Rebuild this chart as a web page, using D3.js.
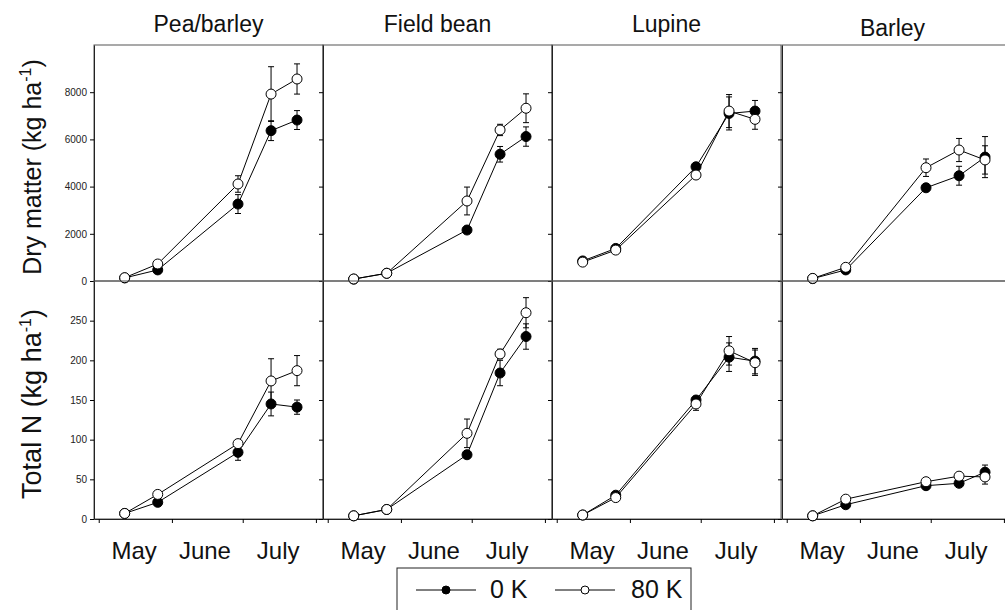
<!DOCTYPE html>
<html><head><meta charset="utf-8">
<script src="https://cdn.jsdelivr.net/npm/d3@7"></script>
<style>body{margin:0;background:#fff}svg{display:block;font-family:"Liberation Sans",Arial,sans-serif}</style>
</head><body><svg id="c" width="1005" height="610"></svg>
<script>
const crops = ["Pea/barley","Field bean","Lupine","Barley"];
const sampleDates = ["2000-05-12","2000-05-26","2000-06-29","2000-07-13","2000-07-24"];
const monthLabels = ["May","June","July"];
const monthLabelDates = ["2000-05-16","2000-06-15","2000-07-16"];
const monthTickDates = ["2000-05-01","2000-06-01","2000-07-01","2000-08-01"];
const dmTicks = [0,2000,4000,6000,8000];
const nTicks = [0,50,100,150,200,250];
const legendLabels = ["0 K","80 K"];

// Dry matter (kg/ha)
const dm0K = [
  [130, 470, 3260, 6370, 6820],
  [80, 330, 2160, 5370, 6120],
  [850, 1380, 4840, 7100, 7200],
  [100, 470, 3950, 4460, 5250]
];
const dm0KErr = [
  [0, 60, 400, 420, 400],
  [0, 0, 0, 330, 410],
  [0, 0, 0, 700, 450],
  [0, 0, 0, 400, 870]
];
const dm80K = [
  [140, 720, 4110, 7920, 8560],
  [85, 325, 3390, 6400, 7320],
  [800, 1310, 4490, 7200, 6850],
  [110, 580, 4800, 5550, 5130]
];
const dm80KErr = [
  [0, 0, 350, 1160, 640],
  [0, 0, 590, 240, 610],
  [0, 0, 0, 700, 420],
  [0, 0, 370, 490, 600]
];
// Total N (kg/ha)
const n0K = [
  [7, 21, 84, 145, 141],
  [4, 12, 81, 184, 230],
  [5, 30, 150, 204, 199],
  [4, 18, 42, 45, 59]
];
const n0KErr = [
  [0, 0, 10, 15, 9],
  [0, 0, 0, 16, 16],
  [0, 0, 0, 18, 16],
  [0, 0, 0, 0, 9]
];
const n80K = [
  [7, 31, 95, 174, 187],
  [4, 12, 108, 208, 260],
  [5, 27, 145, 212, 197],
  [4, 25, 47, 54, 53]
];
const n80KErr = [
  [0, 0, 0, 28, 19],
  [0, 0, 18, 6, 19],
  [0, 0, 8, 18, 16],
  [0, 0, 0, 0, 9]
];

const parse = d3.timeParse("%Y-%m-%d");
const svg = d3.select("#c");
const panelLeft = [94, 323, 552, 782];
const panelW = 229;
const rows = [
  {top:45, bottom:281, domain:[0,10000], ticks:dmTicks, s0:dm0K, e0:dm0KErr, s1:dm80K, e1:dm80KErr, title:"Dry matter (kg ha", cy:167, fs:25},
  {top:281, bottom:519, domain:[0,300], ticks:nTicks, s0:n0K, e0:n0KErr, s1:n80K, e1:n80KErr, title:"Total N (kg ha", cy:404, fs:27}
];

rows.forEach((row, ri) => {
  const y = d3.scaleLinear().domain(row.domain).range([row.bottom, row.top]);
  crops.forEach((crop, ci) => {
    const L = panelLeft[ci];
    const x = d3.scaleTime().domain([parse("2000-04-29"), parse("2000-08-04")]).range([L, L + panelW]);
    const g = svg.append("g");
    g.append("rect").attr("x", L).attr("y", row.top).attr("width", panelW).attr("height", row.bottom - row.top)
      .attr("fill", "none").attr("stroke", "#555").attr("stroke-width", 1);
    const ya = d3.axisLeft(y).tickValues(row.ticks).tickSize(4).tickSizeOuter(0);
    if (ci === 0) ya.tickFormat(d3.format("d")); else ya.tickFormat("");
    const yg = g.append("g").attr("transform", `translate(${L},0)`).call(ya);
    yg.select(".domain").attr("stroke", "#222");
    yg.selectAll("text").attr("font-size", 10).attr("fill", "#222").attr("font-family", "Liberation Sans, Arial");
    if (ri === 1) {
      const xa = d3.axisBottom(x).tickValues(monthTickDates.map(parse)).tickSize(4).tickSizeOuter(0).tickFormat("");
      const xg = g.append("g").attr("transform", `translate(0,${row.bottom})`).call(xa);
      xg.select(".domain").attr("stroke", "#222");
      monthLabels.forEach((m, mi) => {
        g.append("text").attr("x", x(parse(monthLabelDates[mi]))).attr("y", 559)
          .attr("text-anchor", "middle").attr("font-size", 24).attr("fill", "#111").text(m);
      });
    }
    if (ri === 0) {
      g.append("text").attr("x", L + panelW / 2 - (ci === 3 ? 4 : 0)).attr("y", ci === 3 ? 36 : 32)
        .attr("text-anchor", "middle").attr("font-size", 23).attr("fill", "#111").text(crop);
    }
    const pts = (vals, errs) => vals.map((v, i) => ({x: x(parse(sampleDates[i])), v, e: errs[i]}));
    const line = d3.line().x(d => d.x).y(d => y(d.v));
    const series = [
      {data: pts(row.s0[ci], row.e0[ci]), fill: "#000"},
      {data: pts(row.s1[ci], row.e1[ci]), fill: "#fff"}
    ];
    series.forEach(s => {
      s.data.filter(d => d.e > 0).forEach(d => {
        const eg = g.append("g").attr("stroke", "#000").attr("stroke-width", 1);
        eg.append("line").attr("x1", d.x).attr("x2", d.x).attr("y1", y(d.v + d.e)).attr("y2", y(d.v - d.e));
        eg.append("line").attr("x1", d.x - 3).attr("x2", d.x + 3).attr("y1", y(d.v + d.e)).attr("y2", y(d.v + d.e));
        eg.append("line").attr("x1", d.x - 3).attr("x2", d.x + 3).attr("y1", y(d.v - d.e)).attr("y2", y(d.v - d.e));
      });
    });
    series.forEach(s => {
      g.append("path").datum(s.data).attr("d", line).attr("fill", "none").attr("stroke", "#000").attr("stroke-width", 1);
    });
    series.forEach(s => {
      g.selectAll(null).data(s.data).enter().append("circle")
        .attr("cx", d => d.x).attr("cy", d => y(d.v)).attr("r", 5)
        .attr("fill", s.fill).attr("stroke", "#000").attr("stroke-width", 1);
    });
  });
  const t = svg.append("text").attr("transform", `translate(41,${row.cy}) rotate(-90)`)
    .attr("text-anchor", "middle").attr("font-size", row.fs).attr("fill", "#111");
  t.append("tspan").text(row.title);
  t.append("tspan").attr("dy", -10).attr("font-size", 16).text("-1");
  t.append("tspan").attr("dy", 10).text(")");
});

const lg = svg.append("g");
lg.append("rect").attr("x", 397).attr("y", 568).attr("width", 294).attr("height", 50)
  .attr("fill", "#fff").attr("stroke", "#222").attr("stroke-width", 1);
const legendItems = [
  {x1: 416, fill: "#000", tx: 490},
  {x1: 555, fill: "#fff", tx: 631}
];
legendItems.forEach((it, i) => {
  lg.append("line").attr("x1", it.x1).attr("x2", it.x1 + 60).attr("y1", 590).attr("y2", 590).attr("stroke", "#000");
  lg.append("circle").attr("cx", it.x1 + 30).attr("cy", 590).attr("r", 4).attr("fill", it.fill).attr("stroke", "#000");
  lg.append("text").attr("x", it.tx).attr("y", 598).attr("font-size", 25).attr("fill", "#111").text(legendLabels[i]);
});
</script></body></html>
